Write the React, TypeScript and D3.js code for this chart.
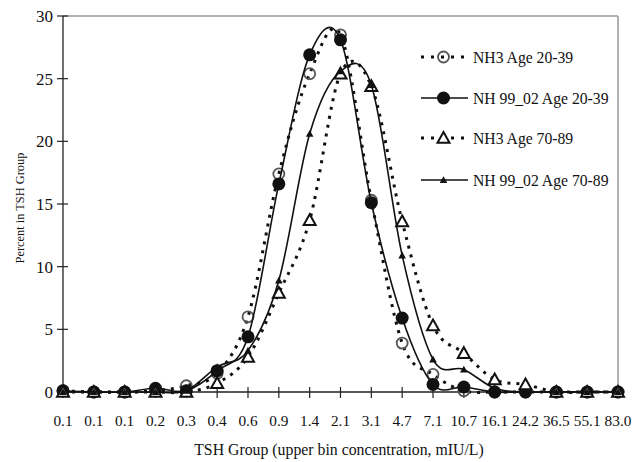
import React from "react";
import * as d3 from "d3";

const categories = ["0.1","0.1","0.1","0.2","0.3","0.4","0.6","0.9","1.4","2.1","3.1","4.7","7.1","10.7","16.1","24.2","36.5","55.1","83.0"];
const nh3_20_39 = [0.1, 0, 0, 0.1, 0.5, 1.5, 6.0, 17.4, 25.4, 28.5, 15.3, 3.9, 1.4, 0.1, 0, 0, 0, 0, 0];
const nh99_20_39 = [0.1, 0, 0, 0.3, 0.1, 1.7, 4.4, 16.6, 26.9, 28.1, 15.1, 5.9, 0.6, 0.4, 0, 0, 0, 0, 0];
const nh3_70_89 = [0, 0, 0, 0, 0, 0.7, 2.8, 7.9, 13.7, 25.4, 24.4, 13.6, 5.3, 3.1, 1.0, 0.6, 0, 0, 0];
const nh99_70_89 = [0, 0, 0, 0, 0.1, 2.0, 3.3, 8.9, 20.6, 25.6, 24.5, 10.9, 2.6, 1.8, 0.3, 0, 0, 0, 0];
const yTicks = [0, 5, 10, 15, 20, 25, 30];
const seriesNames = ["NH3 Age 20-39", "NH 99_02 Age 20-39", "NH3 Age 70-89", "NH 99_02 Age 70-89"];

const W = 644, H = 462;
const L = 63, R = 618, T = 16, B = 392;
const FONT = "'Liberation Serif', 'Times New Roman', serif";

type Kind = "openCircle" | "filledCircle" | "openTri" | "filledTri";
const series: { name: string; values: number[]; dotted: boolean; kind: Kind }[] = [
  { name: seriesNames[0], values: nh3_20_39, dotted: true, kind: "openCircle" },
  { name: seriesNames[1], values: nh99_20_39, dotted: false, kind: "filledCircle" },
  { name: seriesNames[2], values: nh3_70_89, dotted: true, kind: "openTri" },
  { name: seriesNames[3], values: nh99_70_89, dotted: false, kind: "filledTri" },
];

function Marker({ kind, x, y }: { kind: Kind; x: number; y: number }) {
  if (kind === "openCircle") return <circle cx={x} cy={y} r={5.5} fill="white" fillOpacity={0} stroke="#555" strokeWidth={1.8} />;
  if (kind === "filledCircle") return <circle cx={x} cy={y} r={6.5} fill="#111" />;
  if (kind === "openTri") {
    const s = 6;
    return <path d={`M${x},${y - s}L${x + s},${y + s * 0.8}L${x - s},${y + s * 0.8}Z`} fill="white" stroke="#111" strokeWidth={2} />;
  }
  const s = 3.8;
  return <path d={`M${x},${y - s}L${x + s},${y + s * 0.8}L${x - s},${y + s * 0.8}Z`} fill="#111" />;
}

export default function App() {
  const x = d3.scalePoint<number>().domain(categories.map((_, i) => i)).range([L, R]).padding(0);
  const y = d3.scaleLinear().domain([0, 30]).range([B, T]);
  const line = d3.line<number>().x((_, i) => x(i)!).y((d) => y(d)).curve(d3.curveCardinal.tension(0));

  const legendX0 = 421, legendX1 = 468;
  const legendYs = [57, 98, 138, 180];

  return (
    <svg width={W} height={H} style={{ position: "absolute", left: 0, top: 0, background: "white" }} fontFamily={FONT}>
      <rect width={W} height={H} fill="white" />
      {/* plot border */}
      <line x1={L} x2={R} y1={T} y2={T} stroke="#999" strokeWidth={1.5} />
      <line x1={R} x2={R} y1={T} y2={B} stroke="#999" strokeWidth={1.5} />
      {/* axes */}
      <line x1={L} x2={L} y1={T} y2={B} stroke="#222" strokeWidth={1.3} />
      <line x1={L} x2={R} y1={B} y2={B} stroke="#222" strokeWidth={1.3} />
      {yTicks.map((t) => (
        <g key={t}>
          <line x1={L - 6} x2={L + 5} y1={y(t)} y2={y(t)} stroke="#222" strokeWidth={1.2} />
          <text x={53} y={y(t)} dy="0.35em" textAnchor="end" fontSize={17} fill="#111">{t}</text>
        </g>
      ))}
      {categories.map((c, i) => (
        <g key={i}>
          <line x1={x(i)} x2={x(i)} y1={B - 5} y2={B + 6} stroke="#222" strokeWidth={1.2} />
          <text x={x(i)} y={426} textAnchor="middle" fontSize={15.3} fill="#111">{c}</text>
        </g>
      ))}
      <text x={339} y={455} textAnchor="middle" fontSize={15.8} fill="#111">TSH Group (upper bin concentration, mIU/L)</text>
      <text transform={`translate(24,${(T + B) / 2 + 4}) rotate(-90)`} textAnchor="middle" fontSize={12.4} fill="#111">Percent in TSH Group</text>

      {/* series */}
      {series.map((s, si) => (
        <g key={si}>
          <path d={line(s.values) || ""} fill="none" stroke="#111"
            strokeWidth={s.dotted ? 3 : 1.6}
            strokeDasharray={s.dotted ? "3 6" : undefined} />
          {s.values.map((v, i) => <Marker key={i} kind={s.kind} x={x(i)!} y={y(v)} />)}
        </g>
      ))}

      {/* legend */}
      {series.map((s, si) => (
        <g key={si}>
          <line x1={legendX0} x2={legendX1} y1={legendYs[si]} y2={legendYs[si]} stroke="#111"
            strokeWidth={s.dotted ? 3 : 1.6} strokeDasharray={s.dotted ? "3 7" : undefined} />
          <Marker kind={s.kind} x={(legendX0 + legendX1) / 2 - 1} y={legendYs[si]} />
          <text x={473} y={legendYs[si]} dy="0.38em" fontSize={15.7} fill="#111">{s.name}</text>
        </g>
      ))}
    </svg>
  );
}
